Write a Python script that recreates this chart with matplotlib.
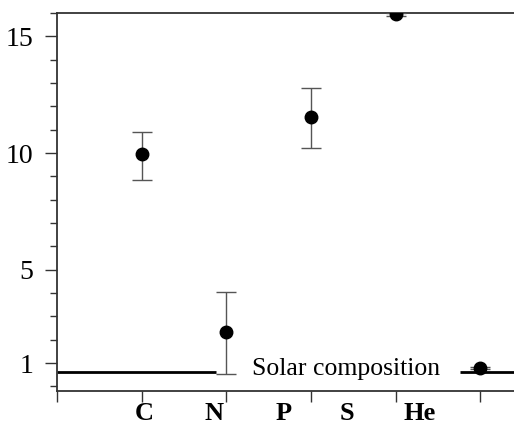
import matplotlib
matplotlib.use("Agg")
import matplotlib.pyplot as plt
from matplotlib.ticker import MultipleLocator

plt.rcParams['font.family'] = ['Liberation Serif', 'DejaVu Serif']

# data
xpos = [1, 2, 3, 4, 5]
yvals = [9.95, 2.35, 11.55, 15.95, 0.8]
err_lo = [1.1, 1.8, 1.35, 0.05, 0.05]
err_hi = [0.95, 1.7, 1.25, 0.05, 0.05]
labels = ['C', 'N', 'P', 'S', 'He']
label_pos = [1.03, 1.85, 2.68, 3.42, 4.28]
solar_level = 0.63
solar_left = [0, 1.88]
solar_right = [4.76, 5.4]

fig = plt.figure(figsize=(5.14, 4.25), dpi=100)
ax = fig.add_axes([0.111, 0.08, 0.889, 0.889])

ax.errorbar(xpos, yvals, yerr=[err_lo, err_hi], fmt='o', color='black',
            ms=9, ecolor='#555555', elinewidth=1, capsize=7, capthick=1, zorder=3)

ax.hlines(solar_level, solar_left[0], solar_left[1], color='black', lw=2)
ax.hlines(solar_level, solar_right[0], solar_right[1], color='black', lw=2)
ax.text(3.42, solar_level + 0.1, 'Solar composition', fontsize=18.5, ha='center', va='center')

ax.set_xlim(0, 5.4)
ax.set_ylim(-0.2, 16)

ax.set_xticks([0, 1, 2, 3, 4, 5])
ax.set_xticklabels([])
ax.set_xticks(label_pos, minor=True)
ax.set_xticklabels(labels, minor=True, fontsize=19, fontweight='bold')
ax.tick_params(axis='x', which='minor', length=0, pad=8)
ax.tick_params(axis='x', which='major', length=8, width=1, color='#333333')

ax.set_yticks([1, 5, 10, 15])
ax.set_yticklabels(['1', '5', '10', '15'], fontsize=20)
ax.yaxis.set_minor_locator(MultipleLocator(1))
ax.tick_params(axis='y', which='major', length=9, width=1, color='#333333', pad=8)
ax.tick_params(axis='y', which='minor', length=5, width=1, color='#333333')

ax.spines['right'].set_visible(False)
for s in ['left', 'top', 'bottom']:
    ax.spines[s].set_linewidth(1.3)
    ax.spines[s].set_color('#333333')

fig.savefig('out.png', dpi=100)
